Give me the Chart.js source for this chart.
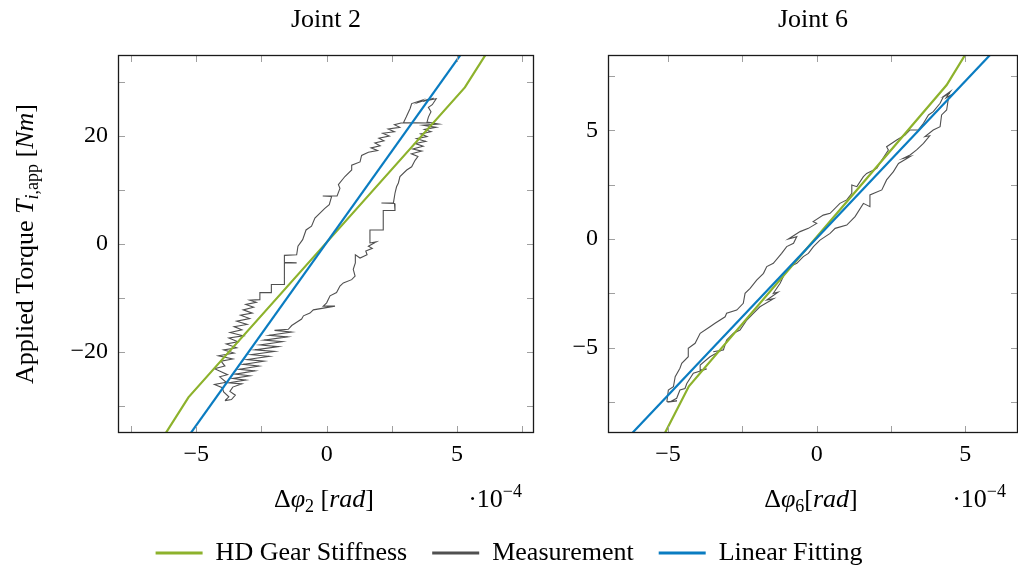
<!DOCTYPE html>
<html lang="en">
<head>
<meta charset="UTF-8">
<title>Joint 2 / Joint 6 stiffness</title>
<script src="https://cdn.jsdelivr.net/npm/chart.js"></script>
<style>
  html, body { margin: 0; padding: 0; background: #fff; overflow: hidden; }
  #wrap { position: relative; width: 1018px; height: 572px; }
  #wrap canvas { position: absolute; left: 0; top: 0; }
</style>
</head>
<body>
<div id="wrap">
  <canvas id="joint2" width="1018" height="572"></canvas>
  <canvas id="joint6" width="1018" height="572"></canvas>
</div>
<script>
const seriesNames = ['HD Gear Stiffness', 'Measurement', 'Linear Fitting'];
const seriesColors = ['#8db22c', '#505050', '#0a7cc1'];

// Joint 2: x in 1e-4 rad, y in Nm
const j2Gear = [[-6.6, -38.3], [-5.3, -28.4], [5.3, 29.0], [6.6, 38.9]];
const j2Fit = [[-6, -40.35], [6, 40.89]];
const j2Meas = [
  [-3.9, -29.0], [-3.75, -28.3], [-3.95, -27.4], [-4.0, -26.6], [-4.3, -26.0], [-3.85, -25.6],
  [-4.1, -24.6], [-3.8, -24.2], [-4.3, -23.1], [-3.9, -22.6], [-4.05, -21.7], [-3.6, -21.3],
  [-4.15, -20.7], [-3.55, -20.2], [-3.95, -19.6], [-3.45, -19.2], [-3.85, -18.5], [-3.4, -18.1],
  [-3.75, -17.4], [-3.2, -17.0], [-3.7, -16.4], [-3.25, -15.9], [-3.55, -15.3], [-3.05, -14.9],
  [-3.45, -14.3], [-2.95, -13.8], [-3.3, -13.2], [-2.85, -12.8], [-3.2, -12.2], [-2.8, -11.7],
  [-3.1, -11.2], [-2.7, -10.8], [-2.95, -10.4], [-2.56, -10.3], [-2.56, -9.0], [-2.12, -9.0],
  [-2.12, -7.5], [-1.62, -7.5], [-1.62, -3.5], [-1.15, -3.5], [-1.62, -3.4], [-1.62, -2.1],
  [-1.15, -2.0], [-1.1, -0.4], [-0.92, 0.8], [-0.79, 2.6], [-0.58, 3.3], [-0.45, 4.8],
  [-0.07, 6.6], [0.1, 7.3], [0.19, 8.8], [-0.15, 8.9], [0.4, 8.9], [0.51, 10.3], [0.45, 11.0],
  [0.7, 12.5], [0.96, 13.7], [0.96, 14.6], [1.28, 15.2], [1.34, 16.4], [1.6, 17.0],
  [1.95, 17.3], [1.7, 17.8], [2.05, 18.2], [1.85, 18.7], [2.2, 19.1], [2.0, 19.6], [2.4, 20.0],
  [2.15, 20.5], [2.6, 20.8], [2.36, 21.3], [2.8, 21.6], [2.6, 22.1], [2.85, 22.4], [3.95, 22.4],
  [2.95, 22.5], [3.05, 23.5], [3.2, 25.1], [3.26, 26.0], [3.64, 26.6], [3.5, 26.2],
  [3.9, 26.8], [3.7, 26.4], [4.1, 27.0], [3.85, 26.6], [4.2, 26.9],
  [4.05, 25.8], [3.9, 25.3], [4.0, 24.5], [3.9, 23.5], [3.85, 22.6], [4.3, 22.2], [3.7, 22.0],
  [4.2, 21.6], [3.75, 21.2], [4.0, 20.8], [3.6, 20.4], [3.85, 19.9], [3.45, 19.5], [3.8, 19.0],
  [3.4, 18.6], [3.7, 18.1], [3.3, 17.6], [3.65, 17.2], [3.25, 16.7], [3.5, 16.2], [3.39, 15.5],
  [3.26, 14.3], [3.07, 13.7], [2.81, 12.5], [2.75, 11.3], [2.68, 10.6], [2.62, 9.4], [2.56, 7.6],
  [2.1, 7.6], [2.6, 7.5], [2.62, 6.2], [2.17, 6.2], [2.17, 2.6], [1.66, 2.6], [1.66, 0.2],
  [1.9, 0.4], [1.6, -0.4], [1.75, -0.8], [1.5, -1.3], [1.55, -2.0], [1.28, -2.6], [1.1, -2.0],
  [1.1, -3.5], [1.02, -4.7], [1.09, -5.95], [0.96, -6.6], [0.64, -7.2], [0.51, -7.8], [0.38, -9.0],
  [0.13, -9.6], [0.0, -10.9], [-0.13, -11.5], [0.32, -11.5], [-0.51, -12.2], [-0.64, -12.8],
  [-0.89, -13.3], [-0.96, -13.9], [-1.15, -14.5], [-1.34, -15.1], [-1.47, -15.8],
  [-2.0, -16.0], [-1.35, -16.3], [-2.2, -16.9], [-1.5, -17.2], [-2.4, -17.8], [-1.7, -18.1],
  [-2.55, -18.7], [-1.85, -19.0], [-2.75, -19.6], [-2.0, -19.9], [-2.9, -20.5], [-2.2, -20.8],
  [-3.05, -21.4], [-2.4, -21.7], [-3.2, -22.3], [-2.6, -22.6], [-3.35, -23.2], [-2.75, -23.5],
  [-3.5, -24.1], [-2.95, -24.4], [-3.6, -24.9], [-3.1, -25.2], [-3.75, -25.7], [-3.25, -25.9],
  [-3.6, -26.5], [-3.71, -27.3], [-3.5, -28.0], [-3.65, -28.8], [-3.9, -29.0]
];
const j2XRange = [-8, 7.95];
const j2YRange = [-35, 35];
const j2XTicks = [-7.5, -5, -2.5, 0, 2.5, 5, 7.5];
const j2YTicks = [-30, -20, -10, 0, 10, 20, 30];
const j2XLabelled = [-5, 0, 5];
const j2YLabelled = [-20, 0, 20];

// Joint 6
const j6Gear = [[-5.3, -9.45], [-4.3, -6.78], [4.37, 7.09], [5.3, 9.16]];
const j6Fit = [[-6.5, -9.36], [6.5, 9.44]];
const j6Meas = [
  [-5.04, -7.49], [-4.99, -6.95], [-4.82, -6.8], [-4.76, -6.34], [-4.6, -5.95], [-4.54, -5.72],
  [-4.32, -5.42], [-4.32, -5.03], [-4.09, -4.8], [-3.92, -4.34], [-3.59, -4.04], [-3.42, -3.88],
  [-3.08, -3.58], [-3.03, -3.42], [-2.69, -3.27], [-2.47, -2.96], [-2.41, -2.5], [-2.24, -2.27],
  [-2.02, -1.89], [-1.79, -1.58], [-1.68, -1.27], [-1.46, -1.12], [-1.18, -0.66], [-1.01, -0.35],
  [-0.78, -0.2], [-0.67, 0.11], [-0.95, 0.0], [-0.56, 0.34], [-0.28, 0.49], [0.0, 0.72],
  [-0.12, 0.8], [0.22, 1.1], [0.45, 1.18], [0.78, 1.64], [1.01, 1.8], [1.18, 2.1], [1.18, 2.49],
  [1.35, 2.41], [1.57, 2.87], [1.68, 3.02], [2.02, 3.25], [2.19, 3.64], [2.41, 4.1], [2.35, 4.25],
  [2.69, 4.56], [2.97, 4.79], [3.14, 5.02], [3.42, 5.02], [3.59, 5.33], [3.76, 5.71], [3.92, 5.86],
  [4.15, 6.25], [4.26, 6.55], [4.48, 6.71], [4.3, 6.6], [4.5, 6.8], [4.35, 6.5], [4.55, 6.65],
  [4.43, 6.48], [4.37, 5.94], [4.2, 5.71], [4.15, 5.17], [3.92, 5.02], [3.64, 4.71], [3.8, 4.75],
  [3.59, 4.4], [3.36, 4.1], [3.14, 3.87], [2.91, 3.71], [3.15, 3.8], [2.75, 3.48], [2.58, 3.1],
  [2.35, 2.72], [2.19, 2.26], [1.79, 2.03], [1.79, 1.49], [1.57, 1.64], [1.29, 1.03], [1.01, 0.64],
  [0.62, 0.49], [0.45, 0.26], [0.11, -0.05], [-0.11, -0.35], [-0.28, -0.66], [-0.45, -0.81],
  [-0.67, -1.12], [-0.9, -1.27], [-1.07, -1.58], [-1.23, -2.04], [-1.46, -2.5], [-1.3, -2.45],
  [-1.68, -2.81], [-1.45, -2.75], [-1.91, -3.12], [-2.13, -3.42], [-2.35, -3.73], [-2.58, -4.19],
  [-2.8, -4.34], [-3.03, -4.65], [-3.14, -5.11], [-3.48, -5.19], [-3.2, -5.12], [-3.59, -5.42],
  [-3.92, -5.8], [-3.92, -6.03], [-3.7, -5.98], [-4.15, -6.18], [-4.37, -6.65], [-4.43, -6.88],
  [-4.6, -6.95], [-4.71, -7.33], [-4.93, -7.49], [-4.7, -7.45], [-5.04, -7.49]
];
const j6XRange = [-7.02, 6.77];
const j6YRange = [-8.93, 8.47];
const j6XTicks = [-5, -2.5, 0, 2.5, 5];
const j6YTicks = [-7.5, -5, -2.5, 0, 2.5, 5, 7.5];
const j6XLabelled = [-5, 0, 5];
const j6YLabelled = [-5, 0, 5];

const FONT = "'Liberation Serif', 'Times New Roman', serif";
const TICK = 24;
const SIZE = 26;
const SUB = 18;
const rm = s => s + 'px ' + FONT;
const it = s => 'italic ' + s + 'px ' + FONT;

function drawRich(ctx, parts, x, y, align) {
  let w = 0;
  parts.forEach(p => { ctx.font = p.f; p.w = ctx.measureText(p.t).width; w += p.w; });
  let cx = align === 'center' ? x - w / 2 : align === 'right' ? x - w : x;
  parts.forEach(p => { ctx.font = p.f; ctx.fillText(p.t, cx, y + (p.dy || 0)); cx += p.w; });
}

// box with inward ticks on every side, and the math-style titles
const axisFrame = {
  id: 'axisFrame',
  afterDatasetsDraw(chart) {
    const {ctx, chartArea: a} = chart;
    const xs = chart.scales.x, ys = chart.scales.y;
    ctx.save();
    ctx.strokeStyle = '#a0a0a0';
    ctx.lineWidth = 1;
    ctx.beginPath();
    xs.ticks.forEach(t => {
      const p = Math.round(xs.getPixelForValue(t.value)) + 0.5;
      ctx.moveTo(p, a.bottom); ctx.lineTo(p, a.bottom - 7);
      ctx.moveTo(p, a.top); ctx.lineTo(p, a.top + 7);
    });
    ys.ticks.forEach(t => {
      const p = Math.round(ys.getPixelForValue(t.value)) + 0.5;
      ctx.moveTo(a.left, p); ctx.lineTo(a.left + 7, p);
      ctx.moveTo(a.right, p); ctx.lineTo(a.right - 7, p);
    });
    ctx.stroke();
    ctx.strokeStyle = '#1a1a1a';
    ctx.lineWidth = 1.3;
    ctx.strokeRect(a.left + 0.5, a.top + 0.5, a.width - 1, a.height - 1);
    ctx.restore();
  },
  afterDraw(chart, args, o) {
    const {ctx, chartArea: a} = chart;
    const cx = (a.left + a.right) / 2;
    ctx.save();
    ctx.fillStyle = '#000';
    ctx.textBaseline = 'alphabetic';
    drawRich(ctx, [{t: o.title, f: rm(SIZE)}], cx, 27, 'center');
    drawRich(ctx, o.xTitle, cx - 2, 507, 'center');
    drawRich(ctx, [{t: '·10', f: rm(SIZE)}, {t: '−4', f: rm(SUB), dy: -10}], a.right - 12, 507, 'right');
    if (o.yTitle) {
      ctx.translate(33, (a.top + a.bottom) / 2);
      ctx.rotate(-Math.PI / 2);
      drawRich(ctx, o.yTitle, 0, 0, 'center');
    }
    ctx.restore();
  }
};

function series(i, pts, width, order) {
  return {
    label: seriesNames[i],
    data: pts.map(p => ({x: p[0], y: p[1]})),
    borderColor: seriesColors[i],
    backgroundColor: seriesColors[i],
    borderWidth: width,
    showLine: true,
    pointRadius: 0,
    tension: 0,
    order: order
  };
}

function axis(range, ticks, labelled, fit, pad) {
  return {
    type: 'linear',
    min: range[0],
    max: range[1],
    afterBuildTicks: s => { s.ticks = ticks.map(v => ({value: v})); },
    afterFit: fit,
    grid: {display: false, drawTicks: false},
    border: {display: false},
    ticks: {
      padding: pad,
      autoSkip: false,
      maxRotation: 0,
      color: '#000',
      font: {family: FONT, size: TICK},
      callback: v => labelled.includes(v) ? String(v).replace('-', '\u2212') : ''
    }
  };
}

const legendOpts = {
  display: true,
  position: 'bottom',
  labels: {
    usePointStyle: true,
    pointStyle: 'line',
    pointStyleWidth: 47,
    padding: 25,
    color: '#000',
    font: {family: FONT, size: SIZE},
    sort: (a, b) => a.datasetIndex - b.datasetIndex,
    generateLabels(chart) {
      return Chart.defaults.plugins.legend.labels.generateLabels(chart)
        .map(l => Object.assign(l, {lineWidth: 3, pointStyle: 'line'}));
    }
  }
};

function makeChart(id, c) {
  return new Chart(document.getElementById(id), {
    type: 'scatter',
    data: {
      datasets: [
        series(0, c.gear, 2.2, 1),
        series(1, c.meas, 1.1, 2),
        series(2, c.fit, 2.2, 0)
      ]
    },
    options: {
      responsive: false,
      animation: false,
      events: [],
      layout: {padding: c.padding},
      scales: {
        x: axis(c.xRange, c.xTicks, c.xLabelled, s => { s.height = c.xHeight; }, 7),
        y: axis(c.yRange, c.yTicks, c.yLabelled, s => { s.width = c.yWidth; }, 10)
      },
      plugins: {
        legend: c.legend ? legendOpts : {display: false},
        tooltip: {enabled: false},
        axisFrame: c.frame
      }
    },
    plugins: [axisFrame]
  });
}

makeChart('joint2', {
  gear: j2Gear, meas: j2Meas, fit: j2Fit,
  xRange: j2XRange, yRange: j2YRange,
  xTicks: j2XTicks, yTicks: j2YTicks,
  xLabelled: j2XLabelled, yLabelled: j2YLabelled,
  padding: {left: 0, top: 55, right: 484, bottom: 57},
  xHeight: 82, yWidth: 118, legend: false,
  frame: {
    title: 'Joint 2',
    xTitle: [{t: 'Δ', f: rm(SIZE)}, {t: 'φ', f: it(SIZE)}, {t: '2', f: rm(SUB), dy: 5},
             {t: ' [', f: rm(SIZE)}, {t: 'rad', f: it(SIZE)}, {t: ']', f: rm(SIZE)}],
    yTitle: [{t: 'Applied Torque ', f: rm(SIZE)}, {t: 'T', f: it(SIZE)},
             {t: 'i', f: it(SUB), dy: 5}, {t: ',app', f: rm(SUB), dy: 5},
             {t: ' [', f: rm(SIZE)}, {t: 'Nm', f: it(SIZE)}, {t: ']', f: rm(SIZE)}]
  }
});

makeChart('joint6', {
  gear: j6Gear, meas: j6Meas, fit: j6Fit,
  xRange: j6XRange, yRange: j6YRange,
  xTicks: j6XTicks, yTicks: j6YTicks,
  xLabelled: j6XLabelled, yLabelled: j6YLabelled,
  padding: {left: 0, top: 55, right: 0, bottom: -4},
  xHeight: 82, yWidth: 608, legend: true,
  frame: {
    title: 'Joint 6',
    xTitle: [{t: 'Δ', f: rm(SIZE)}, {t: 'φ', f: it(SIZE)}, {t: '6', f: rm(SUB), dy: 5},
             {t: '[', f: rm(SIZE)}, {t: 'rad', f: it(SIZE)}, {t: ']', f: rm(SIZE)}]
  }
});
</script>
</body>
</html>
